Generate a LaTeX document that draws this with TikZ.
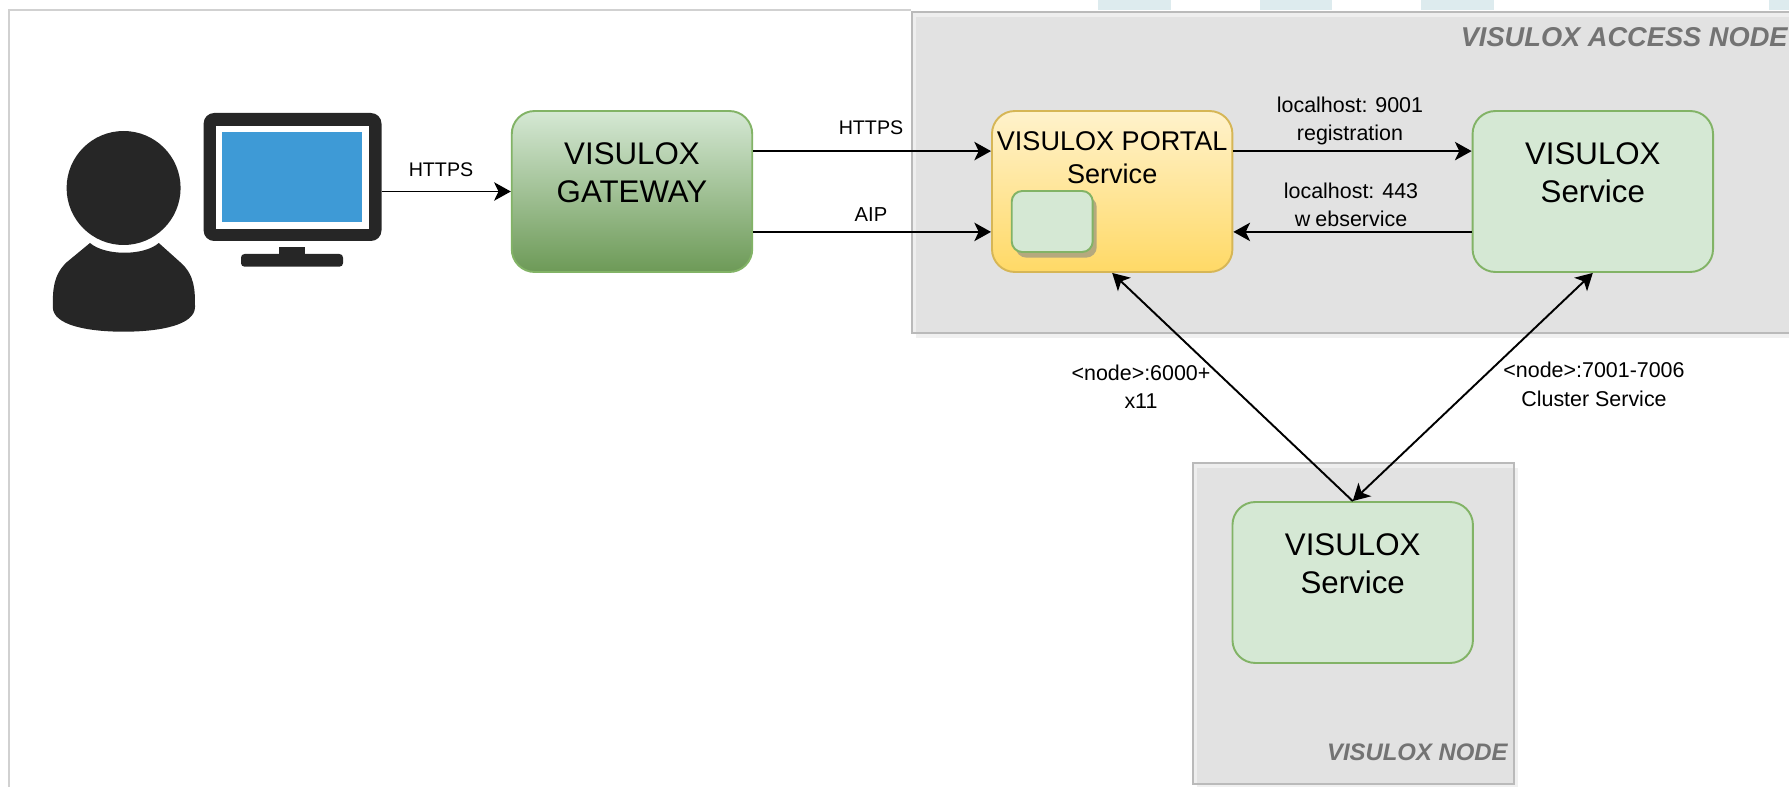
\documentclass[tikz,border=0pt]{standalone}
\usepackage{fontspec}
\setmainfont{Liberation Sans}
\usetikzlibrary{arrows.meta}
\usetikzlibrary{shadows}
\definecolor{greenfill}{HTML}{D5E8D4}
\definecolor{greenline}{HTML}{82B366}
\definecolor{greendark}{HTML}{6D9A57}
\definecolor{yellowtop}{HTML}{FFF2CC}
\definecolor{yellowlow}{HTML}{FFD966}
\definecolor{yellowline}{HTML}{D6B656}
\definecolor{iconblack}{HTML}{262626}
\definecolor{screenblue}{HTML}{3E9AD6}
\definecolor{stripe}{HTML}{DDEBEE}
\definecolor{innershade}{HTML}{B5A97E}
\tikzset{
    link/.style={draw=black, line width=1.1pt,
        {Stealth[length=9.5pt,width=10.5pt,inset=2.5pt]}-{Stealth[length=9.5pt,width=10.5pt,inset=2.5pt]}},
    oneway/.style={draw=black, line width=1.1pt,
        -{Stealth[length=9.5pt,width=10.5pt,inset=2.5pt]}},
    backway/.style={draw=black, line width=1.1pt,
        {Stealth[length=9.5pt,width=10.5pt,inset=2.5pt]}-},
    zone/.style={draw=black!27, line width=1pt, fill=black!25, fill opacity=.27,
        draw opacity=1, inner sep=0pt,
        drop shadow={shadow xshift=2.3pt,shadow yshift=-3pt,fill=black!6,opacity=1}},
    box/.style={rectangle, rounded corners=13pt, draw=greenline, line width=1.1pt,
        minimum width=4.81cm, minimum height=3.22cm, inner sep=0pt, align=center,
        font=\fontsize{17.8}{21.8}\selectfont},
    service/.style={box, fill=greenfill},
    gateway/.style={box, top color=greenfill, bottom color=greendark},
    portal/.style={box, top color=yellowtop, bottom color=yellowlow, draw=yellowline,
        font=\fontsize{15.4}{19.3}\selectfont},
    linktext/.style={align=center, inner sep=0pt, font=\fontsize{12.2}{16.2}\selectfont},
    arrowtext/.style={linktext, font=\fontsize{11.2}{14}\selectfont},
    zonetitle/.style={anchor=east, inner sep=0pt, text=black!55, font=\bfseries\itshape}
}
\begin{document}
\begin{tikzpicture}[x=.02cm,y=-.02cm]
\clip (0,0) rectangle (1789,787);
% background
\foreach \a/\b in {1098/1171,1260/1332,1421/1494,1769/1800}
  \fill[stripe] (\a,0) rectangle (\b,10);
\draw[black!18, line width=1.1pt] (9,800) -- (9,10) -- (911,10);
% zones
\node[zone, minimum width=18cm, minimum height=6.42cm, anchor=north west] (accesszone) at (911,11) {};
\node[zone, minimum width=6.42cm, minimum height=6.42cm, anchor=north west] (nodezone) at (1192,462) {};
\node[zonetitle, font=\fontsize{15.5}{19}\bfseries\itshape\selectfont] (accesstitle) at (1788,37) {VISULOX ACCESS NODE};
\node[zonetitle, font=\fontsize{13.6}{16}\bfseries\itshape\selectfont] (nodetitle) at (1508,752) {VISULOX NODE};
% user
\fill[iconblack] (123.6,188) ellipse (57 and 57);
\fill[iconblack] (90,243) .. controls (105,256) and (144,256) .. (158.8,243)
  -- (180,262) .. controls (195,275) and (195,290) .. (195,307)
  .. controls (195,325) and (160,331.7) .. (123.6,331.7)
  .. controls (87,331.7) and (52.8,325) .. (52.8,307)
  .. controls (52.8,290) and (53,275) .. (67,262) -- cycle;
% monitor
\fill[iconblack, rounded corners=6pt] (203.6,113) rectangle (381.5,241);
\fill[white] (215.5,126) rectangle (369,228.7);
\fill[screenblue] (222,132) rectangle (362.4,222);
\fill[iconblack] (279.4,247) rectangle (305.4,256);
\fill[iconblack, rounded corners=2pt] (241,266.7) -- (241,254) -- (343,254) -- (343,266.7) -- cycle;
\coordinate (monitorport) at (381.5,191.5);
% boxes
\node[gateway] (gw) at (632,191.5) {VISULOX\\GATEWAY\\~};
\node[portal] (pt) at (1112.2,191.5) {VISULOX PORTAL\\Service\\~\\~};
\node[service] (svc) at (1592.8,191.5) {VISULOX\\Service\\~};
\node[service] (nodesvc) at (1352.7,582.5) {VISULOX\\Service\\~};
\node[rectangle, rounded corners=6pt, draw=greenline, line width=1.1pt, fill=greenfill,
  minimum width=1.62cm, minimum height=1.22cm,
  drop shadow={shadow xshift=2.3pt,shadow yshift=-3.2pt,fill=innershade,opacity=1}]
  (inner) at (1052.2,221.5) {};
% links
\draw[oneway] (monitorport) -- (gw.west);
\draw[oneway] ([yshift=23pt]gw.east) -- ([yshift=23pt]pt.west);
\draw[oneway] ([yshift=-23pt]gw.east) -- ([yshift=-23pt]pt.west);
\draw[oneway] ([yshift=23pt]pt.east) -- ([yshift=23pt]svc.west);
\draw[oneway] ([yshift=-23pt]svc.west) -- ([yshift=-23pt]pt.east);
\draw[backway] (pt.south) -- (nodesvc.north);
\draw[link] (svc.south) -- (nodesvc.north);
% labels
\node[arrowtext] (lhttps) at (441,170) {HTTPS};
\node[arrowtext] (ghttps) at (871,128) {HTTPS};
\node[linktext, font=\fontsize{11.5}{14}\selectfont] (gaip) at (871,214.5) {AIP};
\node[linktext] (reg) at (1350,121) {localhost: 9001\\registration};
\node[linktext] (web) at (1351,205) {localhost: 443\\w\kern3pt ebservice};
\node[linktext] (xeleven) at (1141,387) {<node>:6000+\\x11};
\node[linktext] (cluster) at (1594,384.5) {<node>:7001-7006\\Cluster Service};
\end{tikzpicture}
\end{document}
